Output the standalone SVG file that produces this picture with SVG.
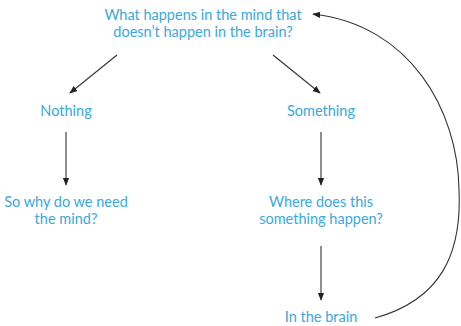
<svg xmlns="http://www.w3.org/2000/svg" width="461" height="326" viewBox="0 0 461 326">
<style>
.t{font-family:Lato,"Open Sans","Noto Sans",sans-serif;font-size:14.5px;fill:#3aa9dc;text-anchor:middle}
.c{stroke:#333;stroke-width:1.1;fill:none}
</style>
<defs>
<marker id="ah" viewBox="0 0 10 10" refX="9" refY="5" markerWidth="8" markerHeight="8" orient="auto" markerUnits="userSpaceOnUse">
<path d="M0,1 L10,5 L0,9 Z" fill="#222"/>
</marker>
</defs>
<rect width="461" height="326" fill="#fff"/>
<g id="q1"><text class="t" x="203" y="20">What happens in the mind that</text><text class="t" x="203" y="37">doesn’t happen in the brain?</text></g>
<g id="nothing"><text class="t" x="66" y="116">Nothing</text></g>
<g id="something"><text class="t" x="321" y="116">Something</text></g>
<g id="why"><text class="t" x="66" y="207">So why do we need</text><text class="t" x="66" y="224">the mind?</text></g>
<g id="where"><text class="t" x="321" y="207">Where does this</text><text class="t" x="321" y="224">something happen?</text></g>
<g id="brain"><text class="t" x="321" y="322">In the brain</text></g>
<g id="connectors">
<line class="c" x1="117" y1="55" x2="70" y2="93" marker-end="url(#ah)"/>
<line class="c" x1="273" y1="55" x2="320" y2="93" marker-end="url(#ah)"/>
<line class="c" x1="66" y1="132" x2="66" y2="185" marker-end="url(#ah)"/>
<line class="c" x1="321" y1="132" x2="321" y2="185" marker-end="url(#ah)"/>
<line class="c" x1="321" y1="246" x2="321" y2="300" marker-end="url(#ah)"/>
<path class="c" d="M375,318 C440,300 462,255 459,190 C458,110 410,25 313,14" marker-end="url(#ah)"/>
</g>
</svg>
